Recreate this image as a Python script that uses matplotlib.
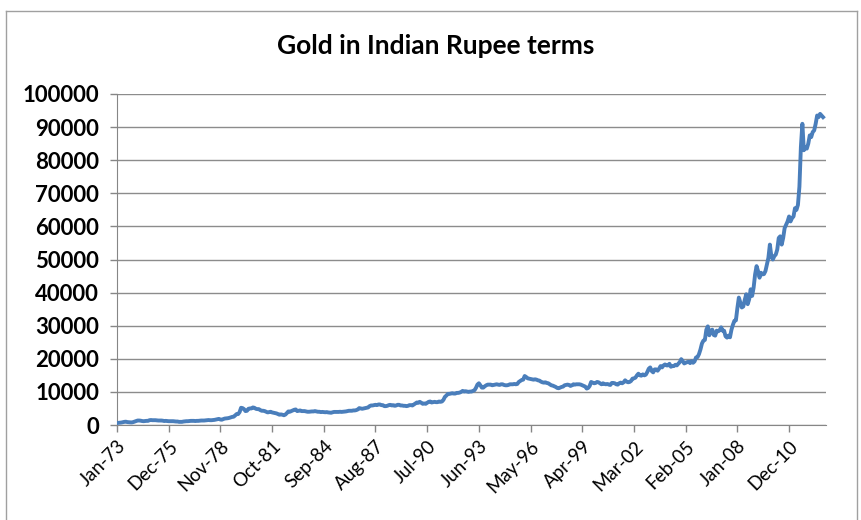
import matplotlib
matplotlib.use("Agg")
import matplotlib.pyplot as plt
from matplotlib.lines import Line2D

# ---------------------- Data (gold price in INR, monthly) ----------------------
start_year = 1973
y1973 = [600, 650, 700, 750, 850, 950, 1000, 880, 830, 800, 780, 880]
y1974 = [1050, 1200, 1350, 1350, 1300, 1200, 1150, 1200, 1250, 1250, 1450, 1500]
y1975 = [1450, 1450, 1450, 1400, 1350, 1350, 1350, 1300, 1200, 1250, 1200, 1150]
y1976 = [1150, 1150, 1150, 1100, 1050, 1050, 950, 950, 950, 1050, 1100, 1150]
y1977 = [1150, 1200, 1250, 1250, 1250, 1200, 1250, 1250, 1300, 1350, 1350, 1350]
y1978 = [1400, 1450, 1500, 1450, 1450, 1500, 1550, 1650, 1750, 1850, 1650, 1600]
y1979 = [1800, 1950, 2000, 2050, 2150, 2300, 2450, 2500, 2900, 3300, 3300, 3900]
y1980 = [5200, 5100, 4800, 4200, 4300, 4900, 5000, 5000, 5300, 5200, 4900, 4800]
y1981 = [4800, 4500, 4300, 4300, 4200, 4000, 3800, 3900, 4000, 3800, 3700, 3600]
y1982 = [3500, 3300, 3100, 3200, 3100, 2950, 3150, 3600, 4100, 4000, 4200, 4400]
y1983 = [4600, 4700, 4200, 4300, 4400, 4200, 4200, 4200, 4100, 4000, 4000, 4050]
y1984 = [4100, 4100, 4200, 4100, 4000, 4000, 3900, 3950, 3900, 3850, 3900, 3800]
y1985 = [3750, 3700, 3850, 3950, 3950, 3950, 3950, 4000, 3950, 4000, 4050, 4100]
y1986 = [4200, 4300, 4300, 4300, 4400, 4400, 4500, 4700, 5100, 5000, 4900, 5000]
y1987 = [5100, 5200, 5300, 5700, 5900, 5900, 6000, 6100, 6000, 6200, 6200, 6000]
y1988 = [6000, 5700, 5700, 5800, 6000, 6100, 5900, 6000, 5800, 5900, 6100, 6100]
y1989 = [5900, 5900, 5800, 5800, 5700, 5800, 6000, 6000, 5900, 6200, 6500, 6800]
y1990 = [6700, 7000, 6700, 6400, 6500, 6400, 6700, 7000, 7100, 6800, 6900, 7000]
y1991 = [6900, 6900, 7100, 7000, 7100, 7600, 8500, 8900, 9400, 9400, 9500, 9600]
y1992 = [9500, 9500, 9700, 9700, 9800, 10000, 10300, 10100, 10200, 10100, 10000, 10100]
y1993 = [10100, 10300, 10500, 11200, 12200, 12600, 12000, 11300, 11300, 11700, 12000, 12200]
y1994 = [12200, 12200, 12000, 12100, 12200, 12300, 12200, 12100, 12300, 12300, 12100, 12000]
y1995 = [12000, 12100, 12300, 12300, 12300, 12400, 12300, 12400, 13000, 13300, 13600, 13700]
y1996 = [14800, 14500, 14100, 14000, 13900, 13800, 13700, 13800, 13700, 13500, 13400, 13100]
y1997 = [12900, 12800, 12900, 12700, 12600, 12300, 12000, 11900, 11700, 11500, 11200, 11100]
y1998 = [11300, 11500, 11600, 12000, 12100, 12200, 12100, 11800, 12000, 12300, 12200, 12300]
y1999 = [12300, 12300, 12200, 12000, 11800, 11600, 11000, 11200, 11800, 13000, 12800, 12600]
y2000 = [12700, 13000, 12900, 12600, 12300, 12600, 12400, 12300, 12400, 12200, 12100, 12700]
y2001 = [12700, 12600, 12300, 12200, 12600, 12800, 12600, 12900, 13500, 13100, 12900, 13000]
y2002 = [13300, 14000, 14100, 14300, 15000, 15500, 15000, 14900, 15300, 15000, 15200, 16000]
y2003 = [17000, 17400, 16300, 15900, 16800, 16800, 16400, 17000, 17800, 17400, 18000, 18300]
y2004 = [18000, 18000, 18500, 17600, 17800, 17800, 18200, 18000, 18500, 19000, 19900, 19300]
y2005 = [18600, 18800, 19000, 19100, 18700, 19300, 18800, 19200, 20400, 20500, 21400, 22800]
y2006 = [24600, 25500, 25700, 28800, 29800, 27100, 28500, 28800, 27200, 27000, 28500, 28300]
y2007 = [28600, 29500, 28500, 28500, 26800, 26400, 27000, 26500, 28800, 30300, 31500, 31600]
y2008 = [35300, 38500, 37000, 35500, 35800, 37800, 39500, 36500, 38000, 41000, 39000, 41500]
y2009 = [45500, 48000, 46500, 44500, 46000, 45500, 45600, 46500, 48500, 50500, 54500, 51000]
y2010 = [50000, 51000, 51500, 53000, 56500, 57000, 54500, 56500, 59500, 60500, 61500, 63000]
y2011 = [61500, 62500, 63000, 65500, 65000, 66500, 72000, 84000, 91000, 83000, 84000, 83500]
y2012 = [85000, 87500, 87000, 88500, 89000, 91000, 93500, 93000, 94000, 93500, 93000]

yearly = [y1973, y1974, y1975, y1976, y1977, y1978, y1979, y1980, y1981, y1982,
          y1983, y1984, y1985, y1986, y1987, y1988, y1989, y1990, y1991, y1992,
          y1993, y1994, y1995, y1996, y1997, y1998, y1999, y2000, y2001, y2002,
          y2003, y2004, y2005, y2006, y2007, y2008, y2009, y2010, y2011, y2012]

months = ["Jan", "Feb", "Mar", "Apr", "May", "Jun",
          "Jul", "Aug", "Sep", "Oct", "Nov", "Dec"]
tick_step = 35  # excel shows every 35th category
# -------------------------------------------------------------------------------

values = [v for yr in yearly for v in yr]
labels = []
for k, yr in enumerate(yearly):
    for m in range(len(yr)):
        labels.append(f"{months[m]}-{str(start_year + k)[-2:]}")

fig = plt.figure(figsize=(8.61, 5.2), dpi=100)
ax = fig.add_axes([117 / 861, 1 - 425 / 520, 709 / 861, 331 / 520])

ax.plot(range(len(values)), values, color="#4A7EBB", lw=2.8, solid_joinstyle="round", zorder=3)

ax.set_xlim(0, 480)
ax.set_ylim(0, 100000)
ax.set_yticks(range(0, 100001, 10000))
ax.grid(axis="y", color="#8c8c8c", lw=1.0)
ax.set_axisbelow(True)

pos = list(range(0, len(values), tick_step))
ax.set_xticks(pos)
ax.set_xticklabels([labels[p] for p in pos], rotation=45, ha="right",
                   rotation_mode="anchor", fontsize=13.5, family="Lato")
for t in ax.get_yticklabels():
    t.set_family("Lato")
    t.set_fontweight("bold")
    t.set_fontsize(16)

for s in ["top", "right"]:
    ax.spines[s].set_visible(False)
for s in ["left", "bottom"]:
    ax.spines[s].set_color("#868686")
ax.tick_params(axis="both", color="#868686", length=5, width=1, pad=4)
ax.tick_params(axis="y", pad=8)

# excel centres the title on the whole chart, not the plot area
fig.text(436 / 861, 1 - 46 / 520, "Gold in Indian Rupee terms", fontsize=19,
         fontweight="bold", family="Lato", ha="center", va="center")

# outer chart frame
fr = dict(color="#a0a0a0", lw=1.0, transform=fig.transFigure)
fig.add_artist(Line2D([6 / 861, 6 / 861], [0, 1 - 11 / 520], **fr))
fig.add_artist(Line2D([6 / 861, 857 / 861], [1 - 11 / 520, 1 - 11 / 520], **fr))
fig.add_artist(Line2D([857 / 861, 857 / 861], [0, 1 - 11 / 520], **fr))

fig.savefig("out.png", dpi=100)
